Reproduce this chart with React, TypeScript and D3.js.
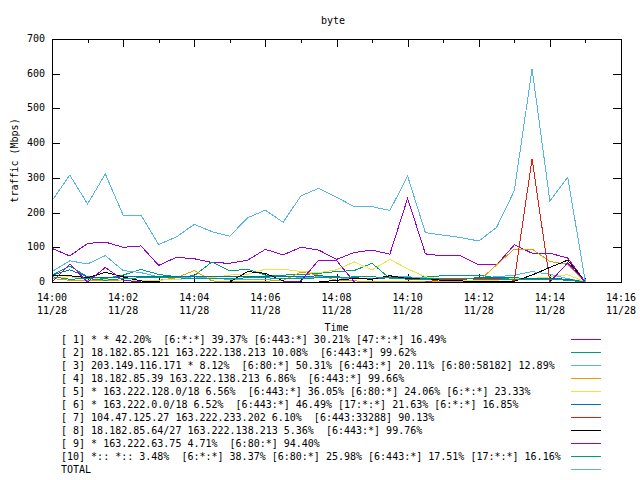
import React from "react";
import * as d3 from "d3";

const times = [
  "14:00:00","14:00:30","14:01:00","14:01:30","14:02:00","14:02:30","14:03:00","14:03:30",
  "14:04:00","14:04:30","14:05:00","14:05:30","14:06:00","14:06:30","14:07:00","14:07:30",
  "14:08:00","14:08:30","14:09:00","14:09:30","14:10:00","14:10:30","14:11:00","14:11:30",
  "14:12:00","14:12:30","14:13:00","14:13:30","14:14:00","14:14:30","14:15:00",
];

const s1 = [97, 75, 111, 115, 100, 104, 48, 71, 67, 56, 54, 63, 94, 78, 100, 92, 65, 85, 92, 80, 241, 81, 75, 75, 49, 49, 107, 83, 83, 69, 0];
const s2 = [20, 46, 15, 10, 20, 36, 22, 15, 18, 58, 32, 37, 20, 20, 21, 25, 30, 33, 54, 10, 12, 15, 18, 18, 20, 12, 10, 8, 8, 5, 0];
const s3 = [30, 61, 52, 76, 33, 27, 15, 12, 15, 10, 8, 8, 8, 10, 12, 15, 12, 10, 10, 15, 15, 12, 10, 10, 12, 15, 20, 30, 22, 10, 0];
const s4 = [10, 5, 5, 5, 5, 5, 5, 12, 33, 3, 2, 2, 2, 5, 28, 20, 5, 3, 2, 2, 2, 2, 2, 2, 3, 49, 95, 95, 59, 51, 0];
const s5 = [12, 15, 10, 8, 5, 5, 5, 8, 10, 12, 20, 22, 37, 37, 30, 27, 35, 58, 35, 65, 38, 15, 8, 5, 5, 5, 10, 10, 15, 21, 0];
const s6 = [20, 35, 15, 12, 15, 15, 15, 15, 15, 15, 15, 15, 15, 15, 15, 18, 15, 12, 10, 12, 12, 10, 10, 10, 12, 12, 12, 10, 10, 8, 0];
const s7 = [0, 0, 0, 0, 0, 0, 0, 0, 0, 0, 0, 0, 0, 0, 0, 0, 0, 0, 0, 0, 0, 0, 8, 8, 10, 10, 5, 355, 0, 0, 0];
const s8 = [18, 18, 12, 28, 15, 3, 0, 0, 0, 0, 0, 30, 25, 3, 0, 0, 5, 10, 8, 18, 10, 8, 5, 3, 2, 2, 2, 20, 42, 63, 0];
const s9 = [0, 52, 0, 42, 5, 0, 0, 0, 0, 0, 0, 0, 0, 0, 3, 63, 62, 0, 0, 0, 0, 0, 0, 0, 0, 0, 0, 0, 0, 55, 0];
const s10 = [15, 8, 10, 5, 10, 12, 12, 12, 10, 10, 10, 12, 12, 10, 10, 12, 12, 15, 15, 12, 8, 8, 10, 10, 8, 8, 8, 8, 8, 5, 0];
const total = [234, 308, 225, 311, 193, 193, 108, 130, 166, 145, 132, 185, 207, 172, 248, 270, 244, 217, 217, 206, 305, 142, 135, 128, 118, 157, 263, 614, 233, 302, 0];

const legendLabels = [
  "[ 1] * * 42.20%  [6:*:*] 39.37% [6:443:*] 30.21% [47:*:*] 16.49%",
  "[ 2] 18.182.85.121 163.222.138.213 10.08%  [6:443:*] 99.62%",
  "[ 3] 203.149.116.171 * 8.12%  [6:80:*] 50.31% [6:443:*] 20.11% [6:80:58182] 12.89%",
  "[ 4] 18.182.85.39 163.222.138.213 6.86%  [6:443:*] 99.66%",
  "[ 5] * 163.222.128.0/18 6.56%  [6:443:*] 36.05% [6:80:*] 24.06% [6:*:*] 23.33%",
  "[ 6] * 163.222.0.0/18 6.52%  [6:443:*] 46.49% [17:*:*] 21.63% [6:*:*] 16.85%",
  "[ 7] 104.47.125.27 163.222.233.202 6.10%  [6:443:33288] 90.13%",
  "[ 8] 18.182.85.64/27 163.222.138.213 5.36%  [6:443:*] 99.76%",
  "[ 9] * 163.222.63.75 4.71%  [6:80:*] 94.40%",
  "[10] *:: *:: 3.48%  [6:*:*] 38.37% [6:80:*] 25.98% [6:443:*] 17.51% [17:*:*] 16.16%",
  "TOTAL",
];

const colors = ["#9400d3", "#009e73", "#56b4e9", "#e69f00", "#f0e442", "#0072b2", "#e51e10", "#000000", "#9400d3", "#009e73", "#56b4e9"];
const seriesList = [s1, s2, s3, s4, s5, s6, s7, s8, s9, s10, total];

const yTicks = [0, 100, 200, 300, 400, 500, 600, 700];

const W = 640, H = 480;
const L = 52, R = 621, T = 39, B = 282;
const FONT = "'DejaVu Sans Mono', monospace";

const parseT = (s: string) => {
  const [h, m, sec] = s.split(":").map(Number);
  return new Date(2016, 10, 28, h, m, sec);
};

export default function App() {
  const x = d3.scaleTime().domain([new Date(2016, 10, 28, 14, 0), new Date(2016, 10, 28, 14, 16)]).range([L, R]);
  const y = d3.scaleLinear().domain([0, 700]).range([B, T]);
  const dates = times.map(parseT);
  const line = d3.line<number>().x((_, i) => x(dates[i])).y((v) => y(v));
  const minorTicks = x.ticks(d3.timeMinute.every(1)!);
  const majorTicks = x.ticks(d3.timeMinute.every(2)!);
  const fmtT = d3.timeFormat("%H:%M");
  const fmtD = d3.timeFormat("%m/%d");
  const majorSet = new Set(majorTicks.map((d) => +d));

  return (
    <svg width={W} height={H} style={{ position: "absolute", left: 0, top: 0, background: "#fff" }} fontFamily={FONT} fontSize={10}>
      <rect x={0} y={0} width={W} height={H} fill="#fff" />
      <text x={333} y={24} textAnchor="middle">byte</text>
      <text transform={`translate(15,${(T + B) / 2}) rotate(-90)`} textAnchor="middle" dominantBaseline="middle">traffic (Mbps)</text>
      <text x={(L + R) / 2} y={331} textAnchor="middle">Time</text>
      <g shapeRendering="crispEdges" stroke="#000" strokeWidth={1}>
        {yTicks.map((t) => (
          <g key={t}>
            <line x1={L} x2={L + 8} y1={Math.round(y(t)) + 0.5} y2={Math.round(y(t)) + 0.5} />
            <line x1={R - 8} x2={R} y1={Math.round(y(t)) + 0.5} y2={Math.round(y(t)) + 0.5} />
          </g>
        ))}
        {minorTicks.map((d) => {
          const len = majorSet.has(+d) ? 8 : 4;
          const px = Math.round(x(d)) + 0.5;
          return (
            <g key={+d}>
              <line x1={px} x2={px} y1={B} y2={B - len} />
              <line x1={px} x2={px} y1={T} y2={T + len} />
            </g>
          );
        })}
      </g>
      {yTicks.map((t) => (
        <text key={t} x={45} y={y(t)} textAnchor="end" dominantBaseline="middle">{t}</text>
      ))}
      {majorTicks.map((d) => (
        <g key={+d}>
          <text x={x(d)} y={301} textAnchor="middle">{fmtT(d)}</text>
          <text x={x(d)} y={314} textAnchor="middle">{fmtD(d)}</text>
        </g>
      ))}
      <g fill="none" strokeWidth={1} shapeRendering="crispEdges">
        {seriesList.map((s, k) => (
          <path key={k} d={line(s) || ""} stroke={colors[k]} />
        ))}
      </g>
      <rect x={L + 0.5} y={T + 0.5} width={R - L} height={B - T} fill="none" stroke="#000" shapeRendering="crispEdges" />
      {legendLabels.map((lab, k) => (
        <g key={k}>
          <text x={61} y={343 + k * 13} xmlSpace="preserve" style={{ whiteSpace: "pre" }}>{lab}</text>
          <line x1={571} x2={601} y1={339.5 + k * 13} y2={339.5 + k * 13} stroke={colors[k]} shapeRendering="crispEdges" />
        </g>
      ))}
    </svg>
  );
}
